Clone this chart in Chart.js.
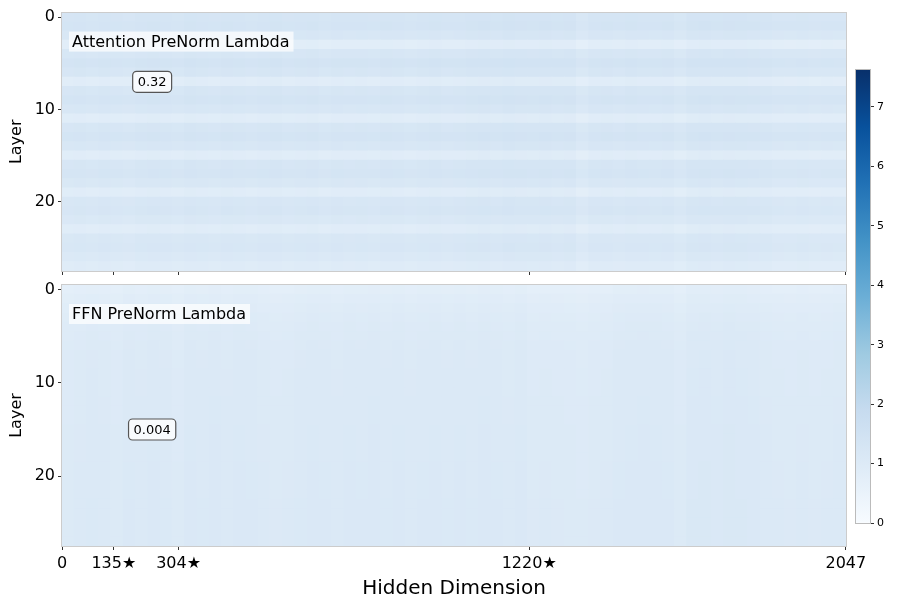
<!DOCTYPE html>
<html>
<head>
<meta charset="utf-8">
<script src="https://cdn.jsdelivr.net/npm/chart.js@4.4.0/dist/chart.umd.min.js"></script>
<style>
  html, body { margin: 0; padding: 0; background: #fff; }
  #wrap { position: relative; width: 897px; height: 608px; overflow: hidden; }
  canvas { position: absolute; }
</style>
</head>
<body>
<div id="wrap">
  <canvas id="attn" width="897" height="285" style="left:0;top:0"></canvas>
  <canvas id="ffn" width="897" height="338" style="left:0;top:270px"></canvas>
  <canvas id="cbar" width="47" height="475" style="left:850px;top:60px"></canvas>
</div>
<script>
// ----------------------------------------------------------------------
// Datos
// ----------------------------------------------------------------------
const numLayers = 28;
const hiddenSize = 2048;
const binSize = 32; // columnas por bloque (64 bloques)

const layerTicks = [0, 10, 20];
const dimTicks = [0, 135, 304, 1220, 2047];
const starredDims = [135, 304, 1220];
const colorbarTicks = [0, 1, 2, 3, 4, 5, 6, 7];
const colorbarMax = 7.62;

// valor medio por capa (Attention): franjas claras cada 4 capas
const attnRowBase = [
  1.28, 1.33, 1.20, 0.82, 1.22, 1.36, 1.24, 0.85, 1.24, 1.33,
  1.20, 0.86, 1.24, 1.33, 1.20, 0.86, 1.24, 1.30, 1.16, 0.86,
  1.20, 1.25, 1.12, 0.86, 1.16, 1.20, 1.08, 0.92,
];
// variación por bloque de columnas (Attention)
const attnColOffset = [
  0.00, 0.02, -0.02, 0.03, 0.00, -0.03, 0.02, 0.04,
  0.03, -0.02, 0.05, 0.02, 0.00, 0.04, 0.02, -0.01,
  0.03, 0.05, 0.00, 0.02, 0.04, -0.02, 0.03, 0.01,
  0.02, 0.00, 0.04, 0.03, -0.02, 0.02, 0.05, 0.01,
  0.03, 0.06, 0.08, 0.05, 0.09, 0.07, 0.06, 0.08,
  0.05, 0.07, -0.08, 0.03, 0.04, 0.01, 0.05, 0.03,
  0.02, 0.04, -0.06, 0.06, 0.08, 0.05, 0.07, 0.06,
  0.04, 0.02, -0.03, -0.04, -0.02, -0.05, -0.03, -0.04,
];

// valor medio por capa (FFN): más claro arriba
const ffnRowBase = [
  0.78, 0.86, 0.92, 0.97, 1.00, 1.02, 1.04, 1.05, 1.05, 1.06,
  1.06, 1.06, 1.07, 1.07, 1.07, 1.08, 1.08, 1.08, 1.08, 1.09,
  1.09, 1.09, 1.09, 1.10, 1.10, 1.10, 1.10, 1.10,
];
const ffnColOffset = [
  -0.06, -0.03, 0.00, -0.02, -0.06, 0.01, -0.01, 0.02,
  0.00, -0.07, 0.02, 0.00, 0.03, -0.01, 0.02, 0.01,
  -0.03, -0.05, -0.04, 0.00, 0.02, 0.01, -0.01, 0.02,
  0.01, 0.03, 0.00, 0.02, -0.01, 0.01, 0.02, 0.00,
  0.02, 0.00, 0.03, 0.01, -0.02, 0.02, -0.05, -0.04,
  -0.05, -0.06, -0.08, -0.05, -0.04, 0.01, 0.02, 0.03,
  0.02, 0.01, -0.06, 0.04, 0.05, 0.03, 0.06, 0.04,
  0.03, -0.02, -0.04, -0.05, -0.03, -0.05, -0.04, -0.02,
];

const attnNote = { text: "0.32", dim: 235, layer: 7 };
const ffnNote = { text: "0.004", dim: 235, layer: 15 };

// ----------------------------------------------------------------------
// Mapa de color "Blues"
// ----------------------------------------------------------------------
const BLUES = ["#f7fbff", "#deebf7", "#c6dbef", "#9ecae1", "#6baed6",
  "#4292c6", "#2171b5", "#08519c", "#08306b"];

const hexToRgb = (h) => [1, 3, 5].map((i) => parseInt(h.slice(i, i + 2), 16));

const blues = (t) => {
  t = Math.min(1, Math.max(0, t));
  const pos = t * (BLUES.length - 1);
  const i = Math.min(BLUES.length - 2, Math.floor(pos));
  const f = pos - i;
  const a = hexToRgb(BLUES[i]);
  const b = hexToRgb(BLUES[i + 1]);
  const c = a.map((v, k) => Math.round(v + (b[k] - v) * f));
  return `rgb(${c[0]},${c[1]},${c[2]})`;
};

const buildCells = (rowBase, colOffset) => {
  const cells = [];
  const colors = [];
  rowBase.forEach((base, layer) => {
    colOffset.forEach((off, bin) => {
      cells.push({ y: layer, x: [bin * binSize - 0.5, (bin + 1) * binSize - 0.5] });
      colors.push(blues((base + off) / colorbarMax));
    });
  });
  return { cells, colors };
};

Chart.defaults.font.family = "'DejaVu Sans', sans-serif";
Chart.defaults.color = "#000";

// ----------------------------------------------------------------------
// Plugin: marco, título del panel y anotación
// ----------------------------------------------------------------------
const heatDecor = {
  id: "heatDecor",
  afterDraw(chart, args, opts) {
    const { ctx, chartArea: a, scales } = chart;
    ctx.save();
    // marco
    ctx.strokeStyle = "#cccccc";
    ctx.lineWidth = 1;
    ctx.strokeRect(Math.round(a.left) - 0.5, Math.round(a.top) - 0.5,
      Math.round(a.right - a.left) + 1, Math.round(a.bottom - a.top) + 1);

    if (opts.title) {
      ctx.font = "16px 'DejaVu Sans'";
      const w = ctx.measureText(opts.title).width;
      const x = a.left + 7;
      const y = a.top + (opts.titleOffset || 29);
      ctx.fillStyle = "rgba(255,255,255,0.72)";
      ctx.fillRect(x, y - 10, w + 7, 20);
      ctx.fillStyle = "#000";
      ctx.textBaseline = "middle";
      ctx.fillText(opts.title, x + 3, y + 1);
    }

    if (opts.note) {
      const px = scales.x.getPixelForValue(opts.note.dim);
      const py = scales.y.getPixelForValue(opts.note.layer);
      ctx.font = "13px 'DejaVu Sans'";
      const w = ctx.measureText(opts.note.text).width + 10;
      const h = 21;
      ctx.beginPath();
      ctx.roundRect(px - w / 2, py - h / 2, w, h, 4);
      ctx.fillStyle = "rgba(255,255,255,0.8)";
      ctx.fill();
      ctx.strokeStyle = "#555";
      ctx.lineWidth = 1.2;
      ctx.stroke();
      ctx.fillStyle = "#000";
      ctx.textAlign = "center";
      ctx.textBaseline = "middle";
      ctx.fillText(opts.note.text, px, py + 1);
    }
    ctx.restore();
  },
};

const makeHeatmap = (canvasId, rowBase, colOffset, cfg) => {
  const { cells, colors } = buildCells(rowBase, colOffset);
  return new Chart(document.getElementById(canvasId), {
    type: "bar",
    plugins: [heatDecor],
    data: {
      datasets: [{
        data: cells,
        backgroundColor: colors,
        borderWidth: 0,
        barPercentage: 1,
        categoryPercentage: 1,
        inflateAmount: 0.5,
      }],
    },
    options: {
      responsive: false,
      animation: false,
      indexAxis: "y",
      layout: { padding: cfg.padding },
      scales: {
        x: {
          type: "linear",
          offset: false,
          min: -0.5,
          max: hiddenSize - 0.5,
          afterBuildTicks: (s) => { s.ticks = dimTicks.map((v) => ({ value: v })); },
          afterFit: (s) => { s.height = cfg.xHeight; },
          grid: { offset: false, drawOnChartArea: false, drawTicks: true, tickLength: 4, color: "#333" },
          border: { display: false },
          ticks: {
            display: cfg.showXLabels,
            font: { size: 16 },
            padding: 4,
            maxRotation: 0,
            callback: (v) => (starredDims.includes(v) ? v + "★" : String(v)),
          },
          title: {
            display: cfg.showXLabels,
            text: "Hidden Dimension",
            font: { size: 20 },
            padding: { top: 0, bottom: 7 },
          },
        },
        y: {
          type: "linear",
          offset: false,
          reverse: true,
          min: -0.5,
          max: numLayers - 0.5,
          afterBuildTicks: (s) => { s.ticks = layerTicks.map((v) => ({ value: v })); },
          afterFit: (s) => { s.width = 62; },
          grid: { offset: false, drawOnChartArea: false, drawTicks: true, tickLength: 4, color: "#333" },
          border: { display: false },
          ticks: { font: { size: 16 }, padding: 3 },
          title: { display: true, text: "Layer", font: { size: 16 }, padding: { top: 7, bottom: 0 } },
        },
      },
      plugins: {
        legend: { display: false },
        tooltip: { enabled: false },
        heatDecor: { title: cfg.title, note: cfg.note, titleOffset: cfg.titleOffset },
      },
    },
  });
};

makeHeatmap("attn", attnRowBase, attnColOffset, {
  padding: { top: 11, right: 51, left: 0, bottom: 0 },
  xHeight: 14,
  showXLabels: false,
  title: "Attention PreNorm Lambda",
  titleOffset: 29,
  note: attnNote,
});

makeHeatmap("ffn", ffnRowBase, ffnColOffset, {
  padding: { top: 15, right: 51, left: 0, bottom: 0 },
  xHeight: 62,
  showXLabels: true,
  title: "FFN PreNorm Lambda",
  titleOffset: 29,
  note: ffnNote,
});

// ----------------------------------------------------------------------
// Barra de color
// ----------------------------------------------------------------------
const cbFrame = {
  id: "cbFrame",
  afterDraw(chart) {
    const { ctx, chartArea: a } = chart;
    ctx.save();
    ctx.strokeStyle = "#bbbbbb";
    ctx.lineWidth = 1;
    ctx.strokeRect(Math.round(a.left) - 0.5, Math.round(a.top) - 0.5,
      Math.round(a.right - a.left) + 1, Math.round(a.bottom - a.top) + 1);
    ctx.restore();
  },
};

new Chart(document.getElementById("cbar"), {
  type: "bar",
  plugins: [cbFrame],
  data: {
    labels: ["cb"],
    datasets: [{
      data: [[0, colorbarMax]],
      borderWidth: 0,
      barPercentage: 1,
      categoryPercentage: 1,
      backgroundColor: (c) => {
        const chart = c.chart;
        const ys = chart.scales.y;
        if (!chart.chartArea || !ys) return BLUES[4];
        const g = chart.ctx.createLinearGradient(0, ys.getPixelForValue(0), 0, ys.getPixelForValue(colorbarMax));
        BLUES.forEach((col, i) => g.addColorStop(i / (BLUES.length - 1), col));
        return g;
      },
    }],
  },
  options: {
    responsive: false,
    animation: false,
    layout: { padding: { top: 10, left: 6, bottom: 12, right: 0 } },
    scales: {
      x: { display: false },
      y: {
        position: "right",
        min: 0,
        max: colorbarMax,
        afterBuildTicks: (s) => { s.ticks = colorbarTicks.map((v) => ({ value: v })); },
        afterFit: (s) => { s.width = 27; },
        grid: { drawOnChartArea: false, drawTicks: true, tickLength: 4, color: "#333" },
        border: { display: false },
        ticks: { font: { size: 11 }, padding: 3 },
      },
    },
    plugins: { legend: { display: false }, tooltip: { enabled: false } },
  },
});
</script>
</body>
</html>
